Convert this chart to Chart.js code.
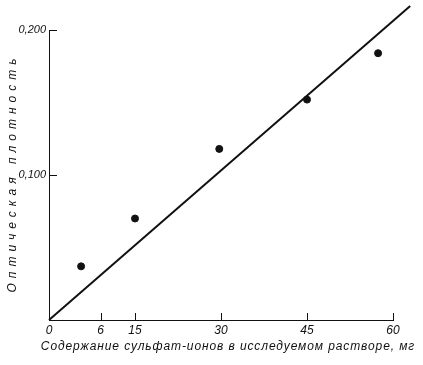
<!DOCTYPE html>
<html>
<head>
<meta charset="utf-8">
<script src="https://cdn.jsdelivr.net/npm/chart.js@4"></script>
<style>
  html, body { margin: 0; padding: 0; background: #fff; }
  #wrap { width: 423px; height: 365px; }
</style>
</head>
<body>
<div id="wrap"><canvas id="densityChart" width="423" height="365"></canvas></div>
<script>
// measured points (mg sulfate, optical density)
const contentMg = [5.6, 15, 29.7, 45, 57.4];
const density = [0.037, 0.070, 0.118, 0.152, 0.184];
// calibration line, through the origin
const lineX = [0, 63];
const lineY = [0, 0.2166];
// axis ticks as printed on the scan
const xTickValues = [0, 9, 15, 30, 45, 60];
const xTickLabels = ['0', '6', '15', '30', '45', '60'];
const yTickValues = [0.1, 0.2];
const yTickLabels = ['0,100', '0,200'];

const xTitle = 'Содержание сульфат-ионов в исследуемом растворе, мг';
const yTitle = 'Оптическая плотность';
const ink = '#111';
const family = '"Liberation Sans", "DejaVu Sans", sans-serif';

// small tick marks pointing into the plot, plus spaced-out axis titles
const axisExtras = {
    id: 'axisExtras',
    afterDraw(chart) {
        const { ctx, scales: { x, y } } = chart;
        const x0 = x.getPixelForValue(0);
        const y0 = y.getPixelForValue(0);
        ctx.save();
        ctx.strokeStyle = ink;
        ctx.lineWidth = 1;
        ctx.beginPath();
        yTickValues.forEach(v => {
            const py = Math.round(y.getPixelForValue(v)) + 0.5;
            ctx.moveTo(x0, py);
            ctx.lineTo(x0 + 8, py);
        });
        xTickValues.slice(1).forEach(v => {
            const px = Math.round(x.getPixelForValue(v)) + 0.5;
            ctx.moveTo(px, y0);
            ctx.lineTo(px, y0 - 7);
        });
        ctx.stroke();

        ctx.fillStyle = ink;
        ctx.font = 'italic 12px ' + family;
        ctx.textBaseline = 'middle';
        ctx.textAlign = 'center';
        ctx.letterSpacing = '0.9px';
        ctx.fillText(xTitle, 228, 347);
        ctx.translate(13, 173);
        ctx.rotate(-Math.PI / 2);
        ctx.letterSpacing = '5px';
        ctx.fillText(yTitle, 0, 0);
        ctx.restore();
    }
};

const ctx = document.getElementById('densityChart').getContext('2d');
const densityChart = new Chart(ctx, {
    type: 'scatter',
    data: {
        datasets: [{
            label: 'points',
            data: contentMg.map((v, i) => ({ x: v, y: density[i] })),
            backgroundColor: ink,
            borderColor: ink,
            pointRadius: 3.5,
            pointHoverRadius: 3.5
        }, {
            label: 'line',
            type: 'line',
            data: lineX.map((v, i) => ({ x: v, y: lineY[i] })),
            borderColor: ink,
            borderWidth: 2,
            pointRadius: 0,
            clip: false
        }]
    },
    options: {
        responsive: false,
        animation: false,
        layout: { padding: { top: 30, right: 30, left: 0, bottom: 0 } },
        plugins: { legend: { display: false }, tooltip: { enabled: false } },
        scales: {
            x: {
                type: 'linear',
                min: 0,
                max: 60,
                afterFit: s => { s.height = 45; },
                afterBuildTicks: s => { s.ticks = xTickValues.map(v => ({ value: v })); },
                grid: { display: false, drawTicks: false },
                border: { color: ink, width: 1 },
                ticks: {
                    padding: 3,
                    color: ink,
                    font: { family: family, size: 12, style: 'italic' },
                    callback: (v) => xTickLabels[xTickValues.indexOf(v)]
                }
            },
            y: {
                type: 'linear',
                min: 0,
                max: 0.2,
                afterFit: s => { s.width = 49; },
                afterBuildTicks: s => { s.ticks = yTickValues.map(v => ({ value: v })); },
                grid: { display: false, drawTicks: false },
                border: { color: ink, width: 1 },
                ticks: {
                    padding: 3,
                    color: ink,
                    font: { family: family, size: 11, style: 'italic' },
                    callback: (v) => yTickLabels[yTickValues.indexOf(v)]
                }
            }
        }
    },
    plugins: [axisExtras]
});
</script>
</body>
</html>
